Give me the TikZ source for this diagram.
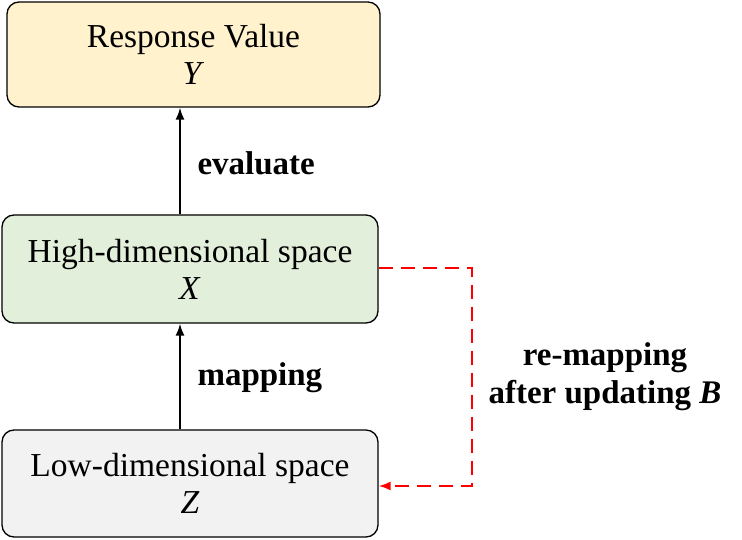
\documentclass[tikz,border=0pt]{standalone}
\usepackage{fontspec}
\setmainfont{Liberation Serif}
\usetikzlibrary{arrows.meta}
\definecolor{cY}{HTML}{FFF2CC}
\definecolor{cX}{HTML}{E2EFDA}
\definecolor{cZ}{HTML}{F2F2F2}
\begin{document}
\begin{tikzpicture}[x=1pt,y=-1pt,
  box/.style={draw=black,line width=1.3pt,rounded corners=12pt,align=center,font=\fontsize{33.5}{37}\selectfont,inner sep=0pt},
  lbl/.style={font=\bfseries\fontsize{33}{38}\selectfont,align=center},
  arr/.style={-{Latex[length=12pt,width=9pt]},line width=1.8pt}]
\useasboundingbox (0,0) rectangle (742,540);
\node[box,fill=cY,minimum width=373pt,minimum height=105pt] (Y) at (193.5,54.5) {Response Value\\\textit{Y}};
\node[box,fill=cX,minimum width=376pt,minimum height=108pt] (X) at (190,269) {High-dimensional space\\\textit{X}};
\node[box,fill=cZ,minimum width=376pt,minimum height=107pt] (Z) at (190,483.5) {Low-dimensional space\\\textit{Z}};
\draw[arr] (X.north -| 180,0) -- (Y.south -| 180,0);
\draw[arr] (Z.north -| 180,0) -- (X.south -| 180,0);
\node[lbl,anchor=west] (ev) at (194,163) {evaluate};
\node[lbl,anchor=west] (mp) at (194,378) {mapping};
\coordinate (c1) at (472,268);
\coordinate (c2) at (472,486);
\draw[red,dashed,dash pattern=on 14pt off 8pt,line width=2pt,-{Latex[length=12pt,width=9pt]}] (X.east |- c1) -- (c1) -- (c2) -- (Z.east |- c2);
\node[lbl] (rm) at (605,377) {re-mapping\\after updating \textit{B}};
\end{tikzpicture}
\end{document}
